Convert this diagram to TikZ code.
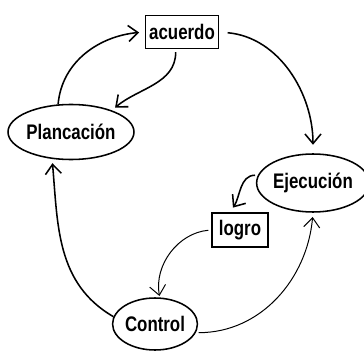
\documentclass[tikz,border=0pt]{standalone}
\usepackage{fontspec}
\setmainfont{Liberation Sans}
\usepackage{tikz}
\usetikzlibrary{arrows,arrows.meta,shapes.geometric,positioning}
\newcommand{\etiq}[1]{\scalebox{0.8}[1]{\bfseries #1}}
\tikzset{
  etapa/.style={draw,line width=1.1pt,ellipse,inner sep=0pt,font=\fontsize{15}{17}\selectfont},
  caja/.style={draw,line width=1.1pt,rectangle,inner sep=0pt,font=\fontsize{15}{17}\selectfont},
  flecha/.style={line width=1.1pt,-{Straight Barb[length=2.4mm,width=4mm]}},
  tenue/.style={line width=0.7pt,-{Straight Barb[length=2.4mm,width=4mm]}}
}
\begin{document}
\begin{tikzpicture}[x=0.025cm,y=-0.025cm]
\useasboundingbox (0,0) rectangle (364,356);
\node[etapa,minimum width=118*0.025cm,minimum height=55*0.025cm] (plan) at (71,132) {\etiq{Plancación}};
\node[etapa,minimum width=96*0.025cm,minimum height=58*0.025cm] (ejec) at (313,183) {\etiq{Ejecución}};
\node[etapa,minimum width=84*0.025cm,minimum height=52*0.025cm] (ctrl) at (155,324) {\etiq{Control}};
\node[caja,minimum width=73*0.025cm,minimum height=33*0.025cm] (acu) at (182,32) {\etiq{acuerdo}};
\node[caja,minimum width=56*0.025cm,minimum height=34*0.025cm] (logro) at (240,230) {\etiq{logro}};
% ciclo exterior
\draw[flecha,shorten >=4pt] (plan.115) to[out=85,in=185] (acu.west);
\draw[flecha,shorten <=2pt,shorten >=3pt] (acu.250) to[out=-90,in=40] (plan.28);
\draw[flecha,shorten <=6pt,shorten >=6pt] (acu.east) to[out=-5,in=90] (ejec.north);
\draw[flecha,shorten >=3pt] (ctrl.170) to[out=150,in=-85] (plan.235);
% ciclo interior
\draw[flecha,shorten <=2pt,shorten >=4pt] (ejec.172) to[out=180,in=55] (logro.120);
\draw[tenue,shorten <=2pt,shorten >=1pt] (logro.west) to[out=185,in=100] (ctrl.80);
\draw[tenue,shorten <=2pt,shorten >=3pt] (ctrl.-12) to[out=0,in=-95] (ejec.south);
\end{tikzpicture}
\end{document}
